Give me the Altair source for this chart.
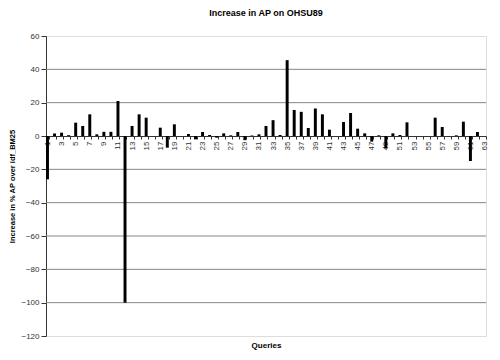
import altair as alt
import pandas as pd

queries = list(range(1, 64))
increase = [
    -26, 1.5, 2, 0.5, 8, 6, 13, 1, 2.5, 2.5,
    21, -100, 6, 13, 11, 0, 5, -7, 7, 0,
    1.2, -2, 2.4, 0.6, -1, 1.6, 0.4, 2.4, -2.5, 0.3,
    1, 6, 9.5, 0.6, 45.5, 15.6, 14.5, 4.8, 16.5, 13,
    3.8, 0, 8.4, 13.8, 4.4, 1.6, -3.4, 0.4, -7.5, 1.6,
    0.6, 8.2, 0, 0, 0, 11, 5.4, 0, 0.4, 8.6,
    -15, 2.4, 0,
]
y_ticks = [-120, -100, -80, -60, -40, -20, 0, 20, 40, 60]
grid_values = [40, 20, -20, -40, -60, -80, -100]

df = pd.DataFrame({"q": queries, "v": increase})
grid_df = pd.DataFrame({"v": grid_values})

FONT = "Liberation Sans"
y_scale = alt.Scale(domain=[-120, 60], nice=False, zero=False)
y_axis = alt.Axis(
    title="Increase in % AP over idf_BM25",
    titleFont=FONT,
    titleFontSize=7.5,
    titleFontWeight="bold",
    titleColor="black",
    titlePadding=4,
    values=y_ticks,
    format="d",
    labelFont=FONT,
    labelFontSize=8,
    labelColor="#333333",
    labelPadding=2,
    tickSize=5,
    tickColor="#333333",
    domainColor="#333333",
    grid=False,
)

grid = alt.Chart(grid_df).mark_rule(color="#868686", strokeWidth=1).encode(
    y=alt.Y("v:Q", scale=y_scale, axis=y_axis)
)

bars = alt.Chart(df).mark_bar(color="black").encode(
    x=alt.X(
        "q:O",
        scale=alt.Scale(paddingInner=0.58, paddingOuter=0),
        axis=alt.Axis(
            title="Queries",
            titleFont=FONT,
            titleFontSize=8,
            titleFontWeight="bold",
            titleColor="black",
            titleY=211,
            titleBaseline="alphabetic",
            offset=-200,
            labelAngle=270,
            labelFont=FONT,
            labelFontSize=8,
            labelColor="#333333",
            labelPadding=2,
            labelOverlap=False,
            labelExpr="datum.value % 2 == 1 ? datum.label : ''",
            ticks=True,
            tickBand="extent",
            tickSize=3,
            tickColor="#333333",
            domainColor="#333333",
            grid=False,
        ),
    ),
    y=alt.Y("v:Q", scale=y_scale, axis=y_axis),
)

chart = alt.layer(grid, bars).properties(
    width=440,
    height=300,
    padding={"left": 38, "top": 28, "right": 6, "bottom": 16},
    autosize=alt.AutoSizeParams(type="none"),
    title=alt.TitleParams(
        "Increase in AP on OHSU89",
        font=FONT,
        fontSize=9,
        fontWeight="bold",
        color="black",
        anchor="middle",
        offset=14,
    ),
).configure_view(stroke=None).configure(background="white")

chart.save("out.html", embed_options={"renderer": "svg", "actions": False})
